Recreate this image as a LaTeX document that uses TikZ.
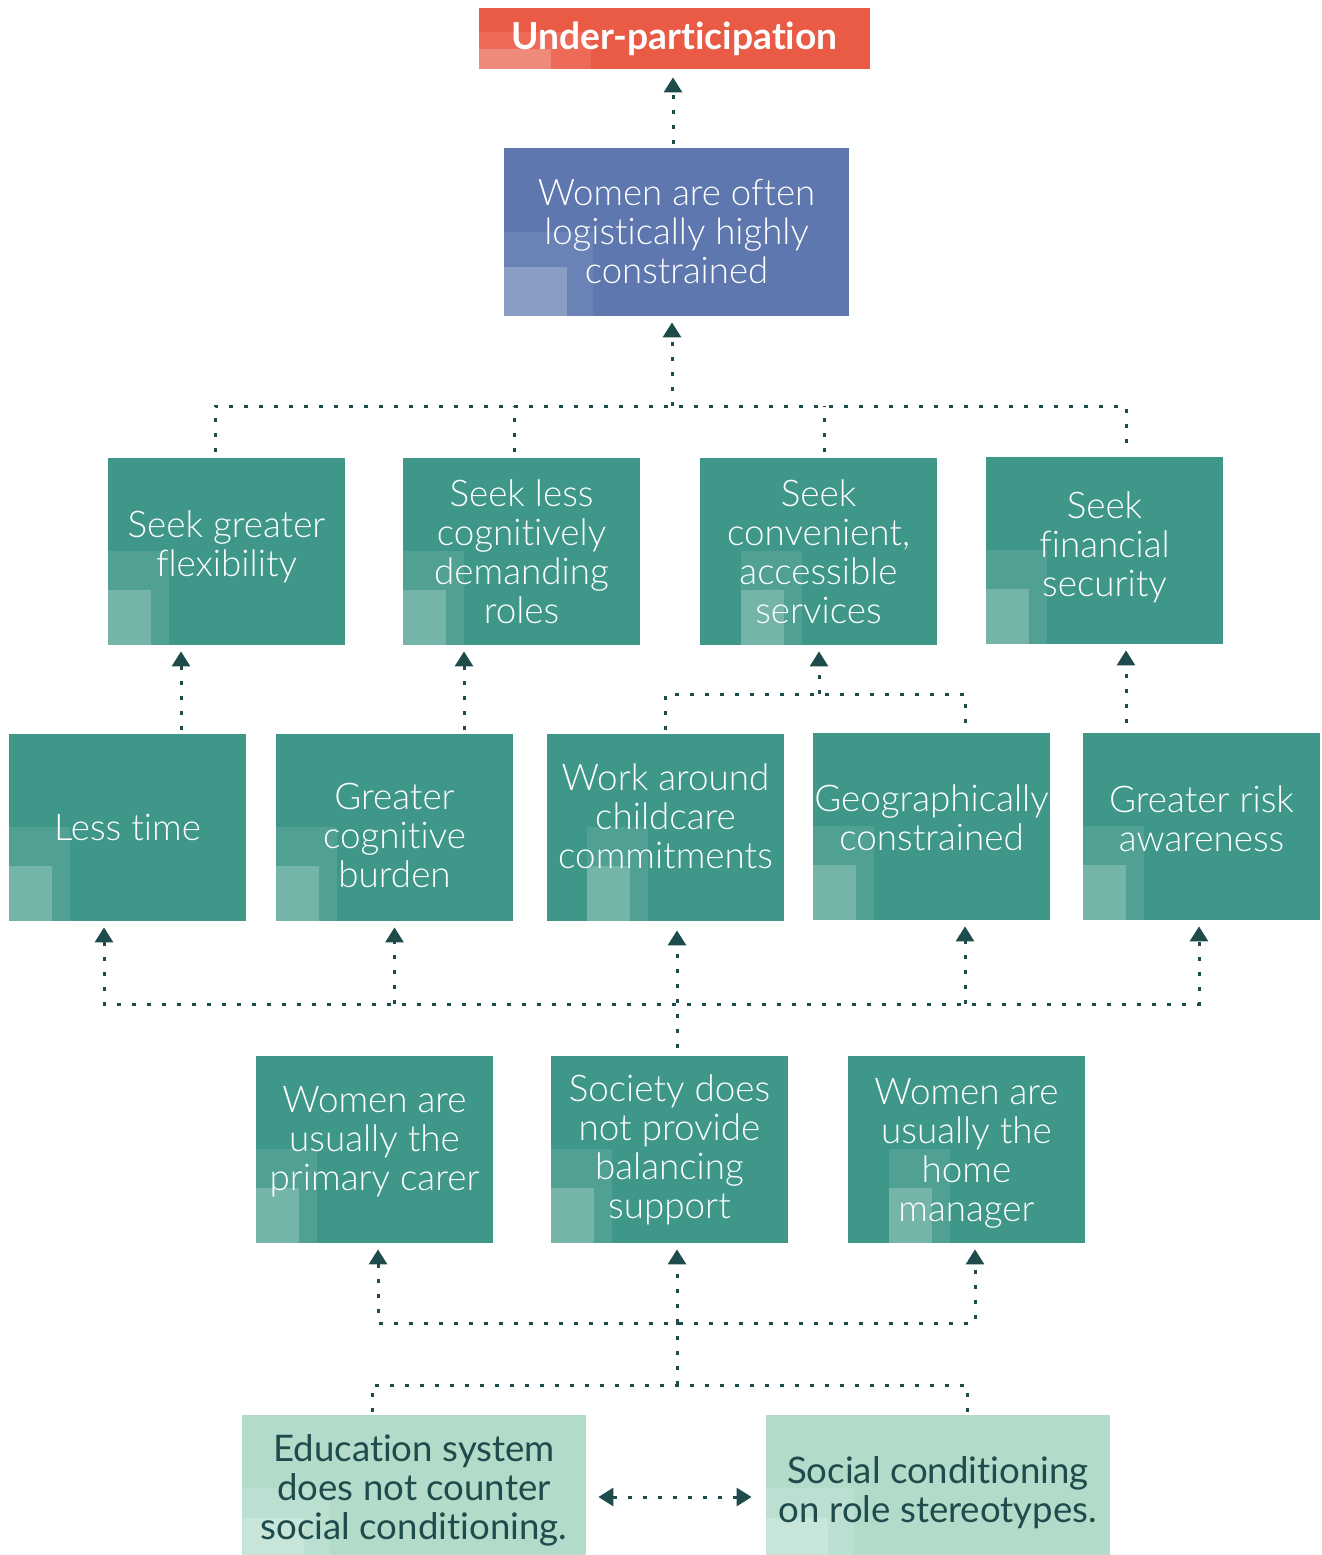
\documentclass[tikz,border=0pt]{standalone}
\usepackage{fontspec}
\setmainfont[Ligatures=NoCommon]{Lato}
\newfontfamily\lightfont[Ligatures=NoCommon]{Lato Light}
\usepackage{xcolor}
\usepackage{tikz}
\usetikzlibrary{arrows.meta}
\definecolor{redbox}{HTML}{E95B45}
\definecolor{redmid}{HTML}{EC6A57}
\definecolor{redlow}{HTML}{EE8A7A}
\definecolor{bluebox}{HTML}{5E77AE}
\definecolor{bluemid}{HTML}{6A82B5}
\definecolor{bluelow}{HTML}{8A9DC4}
\definecolor{tealbox}{HTML}{3E9788}
\definecolor{tealmid}{HTML}{50A094}
\definecolor{teallow}{HTML}{75B4A9}
\definecolor{mintbox}{HTML}{B3DBCA}
\definecolor{mintmid}{HTML}{BBDFD0}
\definecolor{mintlow}{HTML}{C7E5D9}
\definecolor{ink}{HTML}{1E4B4B}
% nudge a text block up or down inside its box
\newcommand\txtup[1]{\rule[-#1]{0pt}{#1}}
\newcommand\txtdown[1]{\rule{0pt}{#1}}
\tikzset{tileshift/.store in=\tileshift, tileshift=0pt,
    box/.style={rectangle,inner sep=0pt,align=center},
    effect/.style={box,fill=redbox,text=white,minimum width=195.5pt,minimum height=30.5pt,
        font=\bfseries\fontsize{18.6}{20}\selectfont,
        path picture={
            \fill[redmid] (path picture bounding box.south west) rectangle ++(56pt,18.5pt);
            \fill[redlow] (path picture bounding box.south west) rectangle ++(36pt,10pt);}},
    core/.style={box,fill=bluebox,text=white,minimum width=172.5pt,minimum height=84pt,
        font=\lightfont\fontsize{18.3}{19.5}\selectfont,
        path picture={
            \fill[bluemid] (path picture bounding box.south west) rectangle ++(44.5pt,42pt);
            \fill[bluelow] (path picture bounding box.south west) rectangle ++(31.5pt,24.5pt);}},
    cause/.style={box,fill=tealbox,text=white,minimum width=118.5pt,minimum height=93.5pt,
        font=\lightfont\fontsize{18.4}{19.5}\selectfont,
        path picture={
            \fill[tealmid] ([xshift=\tileshift]path picture bounding box.south west) rectangle ++(30.5pt,47pt);
            \fill[teallow] ([xshift=\tileshift]path picture bounding box.south west) rectangle ++(21.5pt,27.5pt);}},
    root/.style={box,fill=mintbox,text=ink,minimum width=172pt,minimum height=70pt,
        font=\fontsize{18.3}{19.5}\selectfont,
        path picture={
            \fill[mintmid] (path picture bounding box.south west) rectangle ++(44pt,33.5pt);
            \fill[mintlow] (path picture bounding box.south west) rectangle ++(31pt,18.5pt);}},
    link/.style={draw=ink,line width=1.5pt,dash pattern=on 2pt off 5.5pt},
    tip/.style={-{Triangle[width=9pt,length=7.5pt]},shorten >=3pt},
    arr/.style={link,tip},
    arrs/.style={link,{Triangle[width=9pt,length=7.5pt]}-{Triangle[width=9pt,length=7.5pt]}}
}
\begin{document}
\begin{tikzpicture}[x=0.5pt,y=-0.5pt]
\useasboundingbox (0,0) rectangle (1322,1555);

\node[effect] (under) at (674.5,38.5) {Under-participation};
\node[core] (constr) at (676.5,232) {Women are often\\logistically highly\\constrained};

\node[cause] (flex) at (226.5,551.5) {Seek greater\\flexibility\txtup{7.5pt}};
\node[cause] (cogn) at (521.5,551.5) {Seek less\\cognitively\\demanding\\roles};
\node[cause,tileshift=20.5pt] (conv) at (818.5,551.5) {Seek\\convenient,\\accessible\\services};
\node[cause] (fin) at (1104.5,550.5) {Seek\\financial\\security\txtup{6pt}};

\node[cause] (less) at (127.5,827.5) {Less time};
\node[cause] (burden) at (394.5,827.5) {\txtdown{21pt}Greater\\cognitive\\burden};
\node[cause,tileshift=20pt] (work) at (665.5,827.5) {Work around\\childcare\\commitments\txtup{11pt}};
\node[cause] (geo) at (931.5,826.5) {Geographically\\constrained\txtup{9pt}};
\node[cause] (risk) at (1201.5,826.5) {Greater risk\\awareness\txtup{8pt}};

\node[cause] (carer) at (374.5,1149.5) {Women are\\usually the\\primary carer\txtup{11.5pt}};
\node[cause] (support) at (669.5,1149.5) {Society does\\not provide\\balancing\\support};
\node[cause,tileshift=20.5pt] (home) at (966.5,1149.5) {\txtdown{17pt}Women are\\usually the\\home\\manager};

\node[root] (edu) at (414,1485) {\txtdown{19pt}Education system\\does not counter\\social conditioning.};
\node[root] (social) at (938,1485) {\txtdown{21pt}Social conditioning\\on role stereotypes.};

\coordinate (j1) at (672,406);
\coordinate (j2) at (819,694);
\coordinate (j3) at (677,1004);
\coordinate (j4) at (677,1323);
\coordinate (j5) at (677,1385);

% top of the chain
\draw[arr,shorten <=2pt] ([xshift=-1.75pt]constr.north) -- ([xshift=-0.75pt,yshift=-1pt]under.south);
\draw[link,shorten <=3pt,shorten >=5pt] ([xshift=-5.75pt]flex.north) |- (j1) -| ([xshift=10.75pt]fin.north);
\draw[link,shorten <=3pt] ([xshift=-3.75pt]cogn.north) -- ([xshift=-3.75pt]cogn.north |- j1);
\draw[link,shorten <=3pt] ([xshift=2.75pt]conv.north) -- ([xshift=2.75pt]conv.north |- j1);
\draw[arr] (j1) -- (j1 |- constr.south);

% middle rows
\draw[arr,shorten <=2pt] ([xshift=26.75pt]less.north) -- ([xshift=-22.75pt]flex.south);
\draw[arr,shorten <=2pt] ([xshift=34.75pt]burden.north) -- ([xshift=-28.75pt]cogn.south);
\draw[link,shorten <=2pt,shorten >=5pt] (work.north) |- (j2) -| ([xshift=16.75pt]geo.north);
\draw[arr] (j2) -- (j2 |- conv.south);
\draw[arr,shorten <=5pt] ([xshift=-37.75pt]risk.north) -- ([xshift=10.75pt]fin.south);

\draw[arr,shorten <=4pt] ([xshift=3.75pt]support.north) -- ([xshift=5.75pt,yshift=-1.5pt]work.south);
\draw[arrs,shorten <=3pt,shorten >=3pt] ([xshift=-11.75pt]less.south) |- (j3) -| ([xshift=-1.25pt]risk.south);
\draw[arr] (burden.south |- j3) -- (burden.south);
\draw[arr] ([xshift=16.75pt]geo.south |- j3) -- ([xshift=16.75pt]geo.south);

% bottom rows
\draw[arrs,shorten <=3pt,shorten >=3pt] ([xshift=1.75pt]carer.south) |- (j4) -| ([xshift=4.25pt]home.south);
\draw[arr] (j4) -- ([xshift=3.75pt]support.south);
\draw[link] (j5) -- (j4);
\draw[link,shorten <=1.5pt,shorten >=1.5pt] ([xshift=-21pt]edu.north) |- (j5) -| ([xshift=14.5pt]social.north);
\draw[arrs,shorten <=6pt,shorten >=7pt] ([yshift=-6pt]edu.east) -- ([yshift=-6pt]social.west);
\end{tikzpicture}
\end{document}
